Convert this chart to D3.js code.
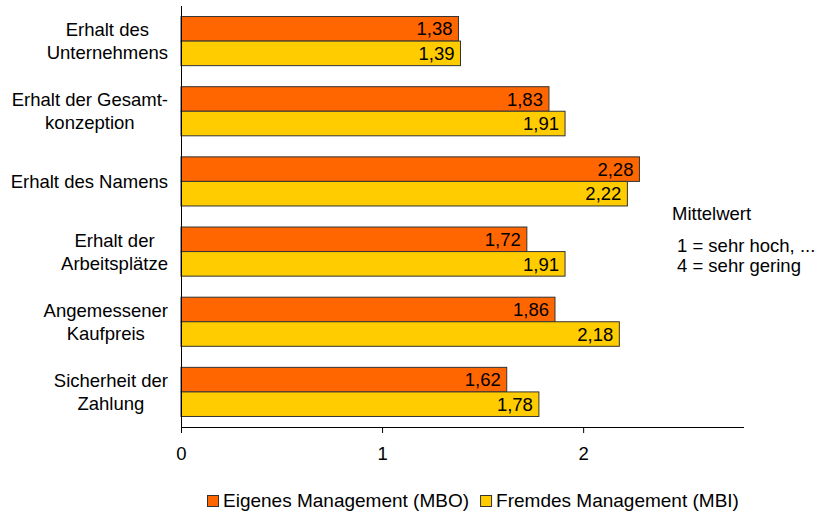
<!DOCTYPE html>
<html>
<head>
<meta charset="utf-8">
<script src="https://cdn.jsdelivr.net/npm/d3@7"></script>
<style>
  html, body { margin: 0; padding: 0; background: #fff; }
  svg { display: block; font-family: "Liberation Sans", Arial, sans-serif; }
</style>
</head>
<body>
<svg id="chart" width="820" height="514"></svg>
<script>
// Kriterien (each label split into its display lines)
const categories = [
  ["Erhalt des", "Unternehmens"],
  ["Erhalt der Gesamt-", "konzeption"],
  ["Erhalt des Namens"],
  ["Erhalt der", "Arbeitsplätze"],
  ["Angemessener", "Kaufpreis"],
  ["Sicherheit der", "Zahlung"]
];
const seriesNames = ["Eigenes Management (MBO)", "Fremdes Management (MBI)"];
const mboValues = [1.38, 1.83, 2.28, 1.72, 1.86, 1.62];
const mbiValues = [1.39, 1.91, 2.22, 1.91, 2.18, 1.78];
const xTicks = [0, 1, 2];
const noteLines = ["Mittelwert", "1 = sehr hoch, ...", "4 = sehr gering"];

const colors = ["#FF6600", "#FFCC00"];
const fontSize = 18.5;
const legendFontSize = 19;

const svg = d3.select("#chart");
const plot = { left: 181, right: 744, top: 6, bottom: 427 };

const x = d3.scaleLinear().domain([0, 2.8]).range([plot.left, plot.right]);
const y = d3.scaleBand()
  .domain(d3.range(categories.length))
  .range([plot.top, plot.bottom])
  .paddingInner(0.3)
  .paddingOuter(0.15);
const inner = d3.scaleBand().domain([0, 1]).range([0, y.bandwidth()]);

const rows = categories.map((c, i) => ({ i, values: [mboValues[i], mbiValues[i]] }));

// Bars
const groups = svg.append("g").selectAll("g")
  .data(rows).join("g")
  .attr("transform", d => `translate(0,${y(d.i)})`);

groups.selectAll("rect")
  .data(d => d.values.map((v, s) => ({ v, s })))
  .join("rect")
  .attr("x", x(0))
  .attr("y", d => inner(d.s))
  .attr("width", d => x(d.v) - x(0))
  .attr("height", inner.bandwidth())
  .attr("fill", d => colors[d.s])
  .attr("stroke", "#333")
  .attr("stroke-width", 1);

// Value labels inside bar ends
groups.selectAll("text")
  .data(d => d.values.map((v, s) => ({ v, s })))
  .join("text")
  .attr("x", d => x(d.v) - 6)
  .attr("y", d => inner(d.s) + inner.bandwidth() / 2)
  .attr("dy", "0.36em")
  .attr("text-anchor", "end")
  .attr("font-size", fontSize)
  .attr("fill", "#000")
  .text(d => d3.format(".2f")(d.v).replace(".", ","));

// X axis
const xAxis = svg.append("g")
  .attr("transform", `translate(0,${plot.bottom})`)
  .call(d3.axisBottom(x).tickValues(xTicks).tickSize(6).tickSizeOuter(0).tickPadding(14)
    .tickFormat(d => String(d)));
xAxis.select(".domain").attr("stroke", "#000").attr("d", `M${plot.left},0.5H${plot.right}`);
xAxis.selectAll(".tick line").attr("stroke", "#000");
xAxis.selectAll(".tick text").attr("font-size", fontSize).attr("font-family", "Liberation Sans, Arial, sans-serif").attr("fill", "#000");

// Y axis line
svg.append("line")
  .attr("x1", plot.left + 0.5).attr("x2", plot.left + 0.5)
  .attr("y1", plot.top).attr("y2", plot.bottom)
  .attr("stroke", "#000");

// Category labels: lines centered within a block right-aligned at the axis
const labelRight = 168;
const lineH = 23;
categories.forEach((lines, i) => {
  const g = svg.append("g");
  const cy = y(i) + y.bandwidth() / 2;
  const texts = lines.map((t, k) => g.append("text")
    .attr("font-size", fontSize)
    .attr("text-anchor", "middle")
    .attr("dy", "0.36em")
    .attr("y", cy + (k - (lines.length - 1) / 2) * lineH)
    .text(t));
  const maxW = d3.max(texts, t => t.node().getComputedTextLength());
  texts.forEach(t => t.attr("x", labelRight - maxW / 2));
});

// Note on the scale
svg.append("text").attr("x", 672).attr("y", 213).attr("dy", "0.36em")
  .attr("font-size", fontSize).text(noteLines[0]);
svg.append("text").attr("x", 677).attr("y", 245).attr("dy", "0.36em")
  .attr("font-size", fontSize).text(noteLines[1]);
svg.append("text").attr("x", 677).attr("y", 265).attr("dy", "0.36em")
  .attr("font-size", fontSize).text(noteLines[2]);

// Legend
const legend = svg.append("g").attr("transform", "translate(207,501)");
let lx = 0;
seriesNames.forEach((name, s) => {
  legend.append("rect")
    .attr("x", lx + 0.5).attr("y", -5.5).attr("width", 11).attr("height", 11)
    .attr("fill", colors[s]).attr("stroke", "#333");
  const t = legend.append("text")
    .attr("x", lx + 16).attr("y", -0.5).attr("dy", "0.36em")
    .attr("font-size", legendFontSize).text(name);
  lx += 16 + t.node().getComputedTextLength() + 11;
});
</script>
</body>
</html>
